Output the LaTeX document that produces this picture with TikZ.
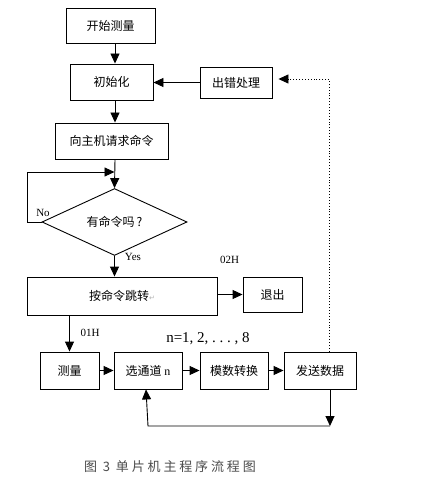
\documentclass[tikz,border=0pt]{standalone}
\usepackage{fontspec}
\setmainfont{Liberation Serif}
\newfontfamily\cjk{Noto Sans CJK SC}
\newfontfamily\capfont[LetterSpace=22]{Noto Sans CJK SC}
\newfontfamily\dejavu{DejaVu Sans}
\usetikzlibrary{arrows.meta,shapes.geometric}
\begin{document}
\begin{tikzpicture}[x=1pt,y=1pt,
  box/.style={draw=black,line width=0.9pt,inner sep=0pt,font=\cjk\fontsize{12}{14}\selectfont},
  arr/.style={line width=0.9pt,-{Triangle[length=10pt,width=9pt]}},
  ln/.style={line width=0.9pt},
  lbl/.style={font=\fontsize{11}{13}\selectfont,inner sep=0pt}]
\useasboundingbox[fill=white] (0,0) rectangle (422,-484);
% nodes
\node[box,minimum width=89pt,minimum height=35pt] (start) at (110.5,-25.5) {开始测量};
\node[box,minimum width=83pt,minimum height=36pt] (init) at (111.5,-82) {初始化};
\node[box,minimum width=72pt,minimum height=31pt] (err) at (236,-82.5) {出错处理};
\node[box,minimum width=113pt,minimum height=36pt] (req) at (111.5,-141) {向主机请求命令};
\node[box,diamond,minimum width=145pt,minimum height=50pt] (dec) at (114.5,-222) {有命令吗\,?};
\node[box,minimum width=190pt,minimum height=38pt] (jump) at (122,-296) {按命令跳转{\dejavu\fontsize{7}{8}\selectfont\color{gray!60}↵}};
\node[box,minimum width=59pt,minimum height=35pt] (exit) at (272.5,-294.5) {退出};
\node[box,minimum width=59pt,minimum height=37pt] (meas) at (69.5,-370.5) {测量};
\node[box,minimum width=68pt,minimum height=37pt] (sel) at (148,-370.5) {选通道 {\rmfamily n}};
\node[box,minimum width=68pt,minimum height=37pt] (adc) at (234,-370.5) {模数转换};
\node[box,minimum width=72pt,minimum height=37pt] (send) at (320,-370.5) {发送数据};
% labels
\node[lbl] (no) at (43,-213) {No};
\node[lbl] (yes) at (133,-257) {Yes};
\node[lbl] (h02) at (229.5,-260) {02H};
\node[lbl] (h01) at (90,-333) {01H};
\node[lbl,font=\fontsize{15}{17}\selectfont] (nlab) at (208,-339) {n=1, 2, .\ .\ .\ , 8};
\node[font=\capfont\fontsize{13}{15}\selectfont,text=black!70,inner sep=0pt] (cap) at (170,-467) {图 3 单片机主程序流程图};
% coordinates
\coordinate (lpL) at (27,-222);
\coordinate (lpT) at (27,-172);
\coordinate (dx) at (115,0);
\coordinate (dtc) at (329,-79);
\coordinate (bc) at (330,-426);
% connectors
\draw[arr] (start.south -| dx) -- (init.north -| dx);
\draw[arr] (init.south -| dx) -- (req.north -| dx);
\draw[arr] (req.south -| dx) -- (dec.north);
\draw[arr] (err.west) -- (init.east |- err.west);
\draw[arr] (dec.west) -- (lpL) -- (lpT) -- (dec.north |- lpT);
\draw[arr] (dec.south) -- (dec.south |- jump.north);
\draw[arr] (jump.east |- exit.west) -- (exit.west);
\draw[arr] (jump.south -| meas.north) -- (meas.north);
\draw[arr] (meas.east) -- (sel.west);
\draw[arr] (sel.east) -- (adc.west);
\draw[arr] (adc.east) -- (send.west);
\draw[arr] (send.south -| bc) -- (bc);
\draw[arr] (bc) -- (bc -| sel.south) -- ([xshift=-2pt]sel.south);
\draw[ln,dotted,-{Triangle[length=10pt,width=9pt]}] (send.north -| dtc) -- (dtc) -- ([xshift=6pt]err.east |- dtc);
\end{tikzpicture}
\end{document}
